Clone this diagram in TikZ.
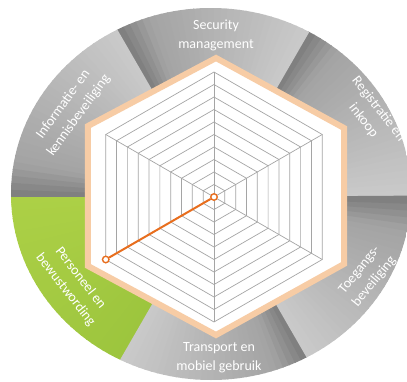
\documentclass[tikz,border=0pt]{standalone}
\usepackage{fontspec}
\setmainfont{Carlito}
\definecolor{bandorange}{RGB}{247,204,165}
\definecolor{dataorange}{RGB}{232,110,30}
\definecolor{gridgray}{RGB}{165,165,165}
\definecolor{segGreenLight}{RGB}{172,208,70}
\definecolor{segGreenDark}{RGB}{138,184,52}
\tikzset{seglabel/.style={text=white,align=center,font=\fontsize{14}{19}\selectfont,inner sep=0pt},
    datapt/.style={circle,draw=dataorange,fill=white,line width=1.4pt,inner sep=0pt,minimum size=6.5pt},
    gridline/.style={gridgray,line width=0.7pt},
    }

\begin{document}
\begin{tikzpicture}[x=1pt,y=1pt]
	\useasboundingbox (-214,-184) rectangle (193,197);
	% ring of six segments
	\begin{scope}
	\clip (-3,3) ellipse [x radius=200, y radius=186];
	\foreach \k in {0,...,5}
	\foreach \i in {0,...,29}{
		\pgfmathsetmacro{\a}{60*\k+2*\i}
		\pgfmathsetmacro{\t}{\i/29}
		\pgfmathsetmacro{\lev}{\t<0.85 ? 21+15*\t/0.85 : 36+14*(\t-0.85)/0.15}
		\pgfmathsetmacro{\gm}{100-45*\t}
		\ifnum\k=3
			\fill[segGreenLight!\gm!segGreenDark] (0,0) -- (\a:300) -- ({\a+2.4}:300) -- cycle;
		\else
			\fill[black!\lev] (0,0) -- (\a:300) -- ({\a+2.4}:300) -- cycle;
		\fi
	}
	\end{scope}
	% hexagon band
	\draw[bandorange,line width=6pt,fill=white,line join=miter]
		(2,139) -- (130,69) -- (130,-67) -- (2,-138) -- (-126,-69) -- (-126,71) -- cycle;
	% grid
	\foreach \r in {1,...,10}
		\draw[gridline] (90:{12.5*\r}) -- (30:{12.5*\r}) -- (-30:{12.5*\r}) -- (-90:{12.5*\r})
			-- (-150:{12.5*\r}) -- (150:{12.5*\r}) -- cycle;
	\foreach \a in {30,90,...,330}
		\draw[gridline] (0,0) -- (\a:125);
	% score
	\node[datapt] (centre) at (0,0) {};
	\node[datapt] (score) at (210:125) {};
	\draw[dataorange,line width=2pt] (centre) -- (score);
	% segment labels
	\foreach \nm/\pos/\rot/\txt in {
		security/{(2,162)}/0/{Security\\management},
		registratie/{(157,82)}/-52/{Registratie en\\inkoop},
		toegang/{(153,-79)}/51/{Toegangs-\\beveiliging},
		transport/{(5,-161)}/0/{Transport en\\mobiel gebruik},
		personeel/{(-141,-87)}/-52/{Personeel en\\bewustwording},
		informatie/{(-143,87)}/54/{Informatie- en\\kennisbeveiliging}}
		\node[seglabel,rotate=\rot] (\nm) at \pos {\txt};
\end{tikzpicture}
\end{document}
